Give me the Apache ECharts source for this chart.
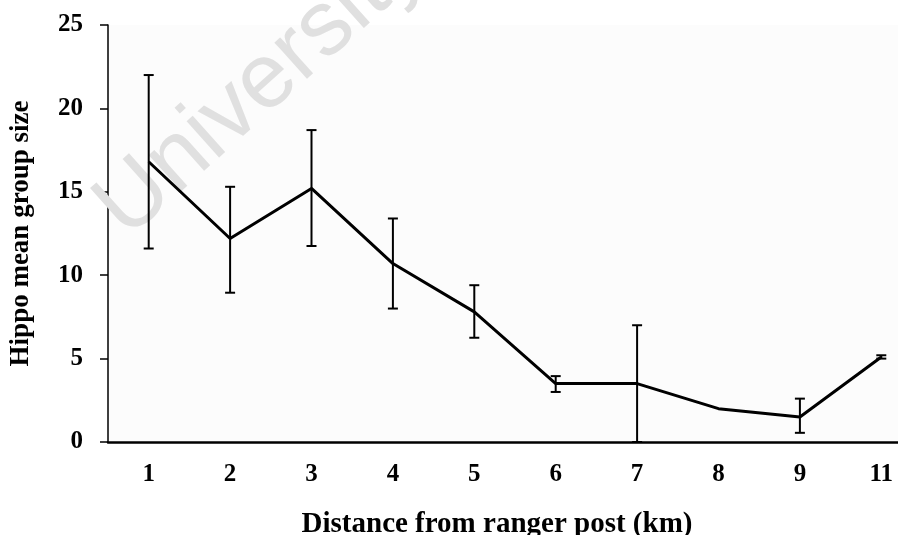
<!DOCTYPE html>
<html>
<head>
<meta charset="utf-8">
<script src="https://cdn.jsdelivr.net/npm/echarts@6/dist/echarts.min.js"></script>
<style>
  html, body { margin: 0; padding: 0; background: #fff; }
  #main { width: 898px; height: 535px; }
</style>
</head>
<body>
<div id="main"></div>
<script>
var categories = ['1', '2', '3', '4', '5', '6', '7', '8', '9', '11'];
var means = [16.8, 12.2, 15.2, 10.7, 7.8, 3.5, 3.5, 2.0, 1.5, 5.1];
var upper = [22.0, 15.3, 18.7, 13.4, 9.4, 3.95, 7.0, null, 2.6, 5.2];
var lower = [11.6, 8.95, 11.75, 8.0, 6.25, 3.0, 0, null, 0.55, 5.0];

var myChart = echarts.init(document.getElementById('main'));

var errData = [];
for (var i = 0; i < categories.length; i++) {
  if (upper[i] !== null) errData.push([i, lower[i], upper[i]]);
}

var serif = '"Liberation Serif", "DejaVu Serif", serif';

var option = {
  animation: false,
  backgroundColor: '#fff',
  // faint diagonal watermark behind the data
  graphic: [{
    type: 'text',
    x: 110,
    y: 221,
    rotation: 0.73,
    z: 1,
    style: {
      text: 'University of Cape Town',
      font: '92px "Liberation Sans", Arial, sans-serif',
      fill: '#e0e0e0',
      textVerticalAlign: 'middle'
    }
  }],
  grid: {
    left: 108,
    top: 25,
    width: 814,
    bottom: 93,
    outerBoundsMode: 'none',
    show: true,
    backgroundColor: '#fcfcfc',
    borderWidth: 0
  },
  xAxis: {
    type: 'category',
    data: categories,
    boundaryGap: true,
    name: 'Distance from ranger post (km)',
    nameLocation: 'middle',
    nameGap: 68,
    nameTextStyle: {
      fontFamily: serif,
      fontWeight: 'bold',
      fontSize: 29,
      color: '#000',
      padding: [0, 36, 0, 0]
    },
    axisLine: { lineStyle: { color: '#000', width: 2.5 } },
    axisTick: { length: 10, lineStyle: { color: '#000', width: 2.5 } },
    axisLabel: { fontFamily: serif, fontWeight: 'bold', fontSize: 25, color: '#000', margin: 20 }
  },
  yAxis: {
    type: 'value',
    min: 0,
    max: 25,
    interval: 5,
    name: 'Hippo mean group size',
    nameLocation: 'middle',
    nameGap: 73,
    nameRotate: 90,
    nameTextStyle: {
      fontFamily: serif,
      fontWeight: 'bold',
      fontSize: 27,
      color: '#000'
    },
    axisLine: { show: true, lineStyle: { color: '#000', width: 1.5 } },
    axisTick: { show: true, length: 8, lineStyle: { color: '#000', width: 1.5 } },
    splitLine: { show: false },
    axisLabel: { fontFamily: serif, fontWeight: 'bold', fontSize: 25, color: '#000', margin: 25 }
  },
  series: [{
    type: 'line',
    data: means,
    symbol: 'none',
    lineStyle: { color: '#000', width: 3 },
    z: 3
  }, {
    type: 'custom',
    data: errData,
    z: 2,
    renderItem: function (params, api) {
      var x = api.value(0);
      var lo = api.coord([x, api.value(1)]);
      var hi = api.coord([x, api.value(2)]);
      var w = 5;
      var st = { stroke: '#000', lineWidth: 2 };
      return {
        type: 'group',
        children: [
          { type: 'line', shape: { x1: hi[0], y1: hi[1], x2: lo[0], y2: lo[1] }, style: st },
          { type: 'line', shape: { x1: hi[0] - w, y1: hi[1], x2: hi[0] + w, y2: hi[1] }, style: st },
          { type: 'line', shape: { x1: lo[0] - w, y1: lo[1], x2: lo[0] + w, y2: lo[1] }, style: st }
        ]
      };
    }
  }]
};

myChart.setOption(option);
</script>
</body>
</html>
